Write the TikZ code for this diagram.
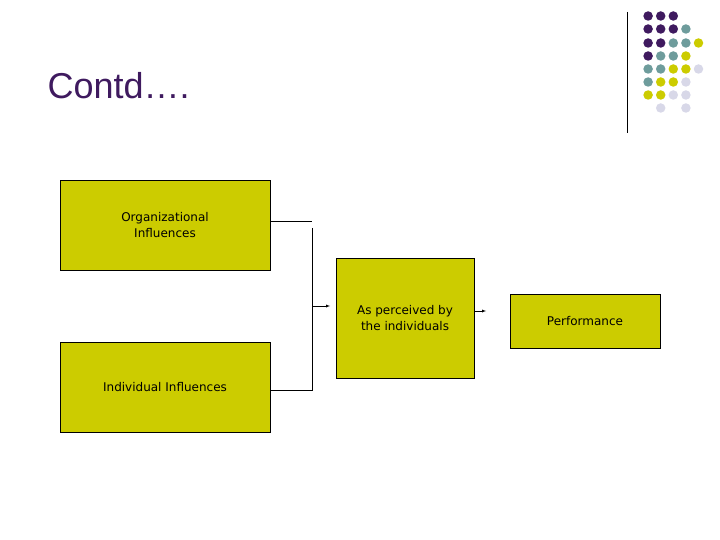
\documentclass[tikz,border=0pt]{standalone}
\usepackage{fontspec}
\setmainfont{Liberation Sans}
\newfontfamily\boxfont{DejaVu Sans}
\usetikzlibrary{positioning}
\definecolor{olive}{HTML}{CCCC00}
\definecolor{plum}{HTML}{3F1A5F}
\definecolor{teal}{HTML}{6E9C9C}
\definecolor{lilac}{HTML}{D8D8E8}
\tikzset{
  box/.style={draw=black, fill=olive, align=center, font=\boxfont\fontsize{12}{16}\selectfont, inner sep=0pt},
  dot/.style={circle, inner sep=0pt, minimum size=9.5pt}
}
\begin{document}
\begin{tikzpicture}[x=1pt,y=-1pt]
      \useasboundingbox (0,0) rectangle (720,540);

      \node[anchor=west, text=plum, font=\fontsize{36}{40}\selectfont] (title) at (44,86) {Contd….};

      \draw[thin] (627,12) -- (627,133);
      \foreach \row/\list in {16/{1/plum,2/plum,3/plum},
                              29/{1/plum,2/plum,3/plum,4/teal},
                              43/{1/plum,2/plum,3/teal,4/teal,5/olive},
                              56/{1/plum,2/teal,3/teal,4/olive},
                              69/{1/teal,2/teal,3/olive,4/olive,5/lilac},
                              82/{1/teal,2/olive,3/olive,4/lilac},
                              95/{1/olive,2/olive,3/lilac,4/lilac},
                              108/{2/lilac,4/lilac}}
        \foreach \col/\c in \list
          \node[dot, fill=\c] at ({635.5+12.6*\col},\row) {};

      \node[box, minimum width=210pt, minimum height=90pt] (org) at (165,225) {Organizational\\Influences};
      \node[box, minimum width=210pt, minimum height=90pt] (ind) at (165,387) {Individual Influences};
      \node[box, minimum width=138pt, minimum height=120pt] (perc) at (405,318) {As perceived by\\the individuals};
      \node[box, minimum width=150pt, minimum height=54pt] (perf) at (585,321) {Performance};

      \coordinate (jn) at (312,306);
      \draw (org.east |- 0,221) -- (312,221);
      \draw (312,228) -- (312,390) -- (ind.east |- 0,390);
      \draw[-latex] (jn) -- (330,306);
      \draw[-latex] (perc.east |- 0,311) -- (486,311);
\end{tikzpicture}
\end{document}
